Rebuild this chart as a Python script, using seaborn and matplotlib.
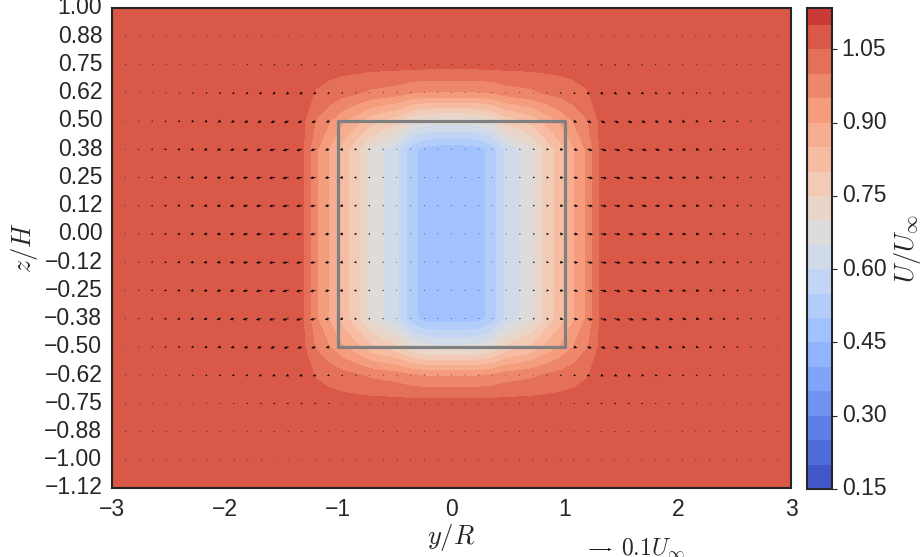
import numpy as np
import matplotlib
matplotlib.use("Agg")
import matplotlib.pyplot as plt
import seaborn as sns

sns.set_style("white")
plt.rcParams["font.family"] = ["Liberation Sans", "DejaVu Sans"]
plt.rcParams["mathtext.fontset"] = "cm"

# measurement grid (lateral y/R, vertical z/H)
y = np.linspace(-3.0, 3.0, 51)
z = np.arange(-1.125, 1.0001, 0.125)

U_free = 1.07
# streamwise velocity deficit across the wake (y = 0, 0.12, ..., 3.0)
deficit_y = [0.60, 0.60, 0.59, 0.55, 0.46, 0.42, 0.38, 0.305, 0.245, 0.175,
             0.11, 0.01, 0.0, 0.0, 0.0, 0.0, 0.0, 0.0, 0.0, 0.0,
             0.0, 0.0, 0.0, 0.0, 0.0, 0.0]
# vertical shape of the deficit (z = -1.125 ... 1.0)
deficit_z = [0.0, 0.0, 0.0, 0.0, 0.21, 0.68, 1.0, 1.0, 1.0, 1.0,
             1.0, 1.0, 1.0, 0.66, 0.21, 0.0, 0.0, 0.0]
# outward lateral velocity (y = 0, 0.12, ..., 3.0)
v_y = [0.0, 0.001, 0.002, 0.003, 0.005, 0.007, 0.009, 0.012, 0.016, 0.021,
       0.026, 0.028, 0.028, 0.027, 0.025, 0.023, 0.021, 0.019, 0.017, 0.015,
       0.013, 0.011, 0.009, 0.007, 0.005, 0.003]
# vertical weighting of lateral velocity and vertical velocity (z = -1.125 ... 1.0)
v_z = [0.10, 0.15, 0.20, 0.30, 0.50, 0.80, 1.0, 1.0, 1.0, 1.0,
       1.0, 1.0, 0.95, 0.75, 0.45, 0.25, 0.15, 0.10]
w_z = [0.0, 0.0, -0.05, -0.10, -0.20, -0.25, -0.25, -0.20, -0.15, -0.10,
       -0.10, -0.15, -0.25, -0.35, -0.30, -0.15, -0.05, 0.0]

# rotor box outline
box_y = [-1, 1, 1, -1, -1]
box_z = [-0.5, -0.5, 0.5, 0.5, -0.5]

levels = list(np.round(np.arange(0.15, 1.1501, 0.05), 3))
cbar_ticks = [0.15, 0.30, 0.45, 0.60, 0.75, 0.90, 1.05]
cbar_top = 1.135

# assemble 2D fields from the profiles (symmetric in y)
half_idx = np.abs(np.round(y / 0.12)).astype(int)
Dy = np.array(deficit_y)[half_idx]
Vy = np.sign(y) * np.array(v_y)[half_idx]
Vabs = np.array(v_y)[half_idx]
U = U_free - np.outer(np.array(deficit_z), Dy)
V = np.outer(np.array(v_z), Vy)
W = np.outer(np.array(w_z), Vabs)
Y, Z = np.meshgrid(y, z)

fig = plt.figure(figsize=(9.22, 5.57), dpi=100)
ax = fig.add_axes([0.1215, 0.1239, 0.7364, 0.8618])
cax = fig.add_axes([0.8753, 0.1221, 0.0271, 0.8636])

cf = ax.contourf(Y, Z, U, levels=levels, cmap="coolwarm", vmin=0.15, vmax=1.19)
q = ax.quiver(Y, Z, V, W, color="black", scale=0.4545, scale_units="inches",
              width=0.0013, headwidth=3.5, headlength=4, headaxislength=3.5)
ax.plot(box_y, box_z, color="gray", lw=2.3)
ax.quiverkey(q, 0.735, -0.127, 0.1, r"$0.1U_\infty$", labelpos="E",
             coordinates="axes", fontproperties={"size": 17})

ax.set_xlim(-3, 3)
ax.set_ylim(-1.125, 1.0)
ax.set_xticks([-3, -2, -1, 0, 1, 2, 3])
ax.set_yticks(z)
ax.set_yticklabels([f"{v:.2f}".replace("-", "\u2212") for v in z], va="center")
ax.tick_params(labelsize=16.5)
ax.set_xlabel(r"$y/R$", fontsize=19, labelpad=1)
ax.set_ylabel(r"$z/H$", fontsize=19, labelpad=3)
for s in ax.spines.values():
    s.set_linewidth(1.5)

cb = fig.colorbar(cf, cax=cax, ticks=cbar_ticks, spacing="proportional")
cb.ax.tick_params(labelsize=16.5)
cb.ax.set_yticklabels([f"{t:.2f}" for t in cbar_ticks], va="center")
cb.set_label(r"$U/U_\infty$", fontsize=19)
cb.outline.set_linewidth(1.5)
cax.set_ylim(0.15, cbar_top)

fig.savefig("out.png", dpi=100)
